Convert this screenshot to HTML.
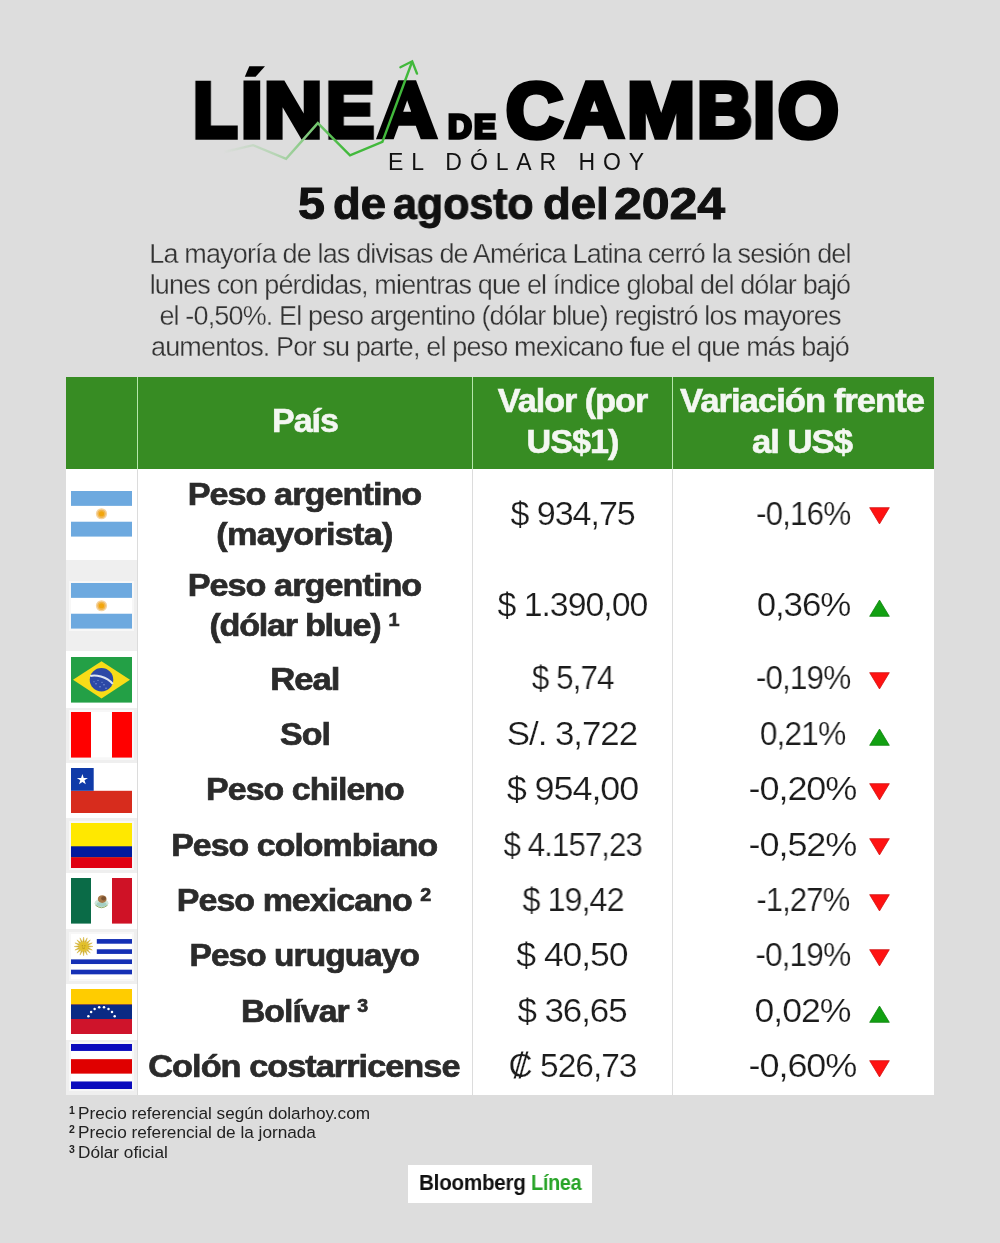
<!DOCTYPE html>
<html lang="es">
<head>
<meta charset="utf-8">
<title>Línea de Cambio - El dólar hoy</title>
<style>
*{margin:0;padding:0;box-sizing:border-box;}
html,body{width:1000px;height:1243px;background:#dddddd;overflow:hidden;}
body{font-family:"Liberation Sans",sans-serif;color:#1a1a1a;position:relative;}
.abs{position:absolute;white-space:nowrap;}
.para,.fn,.sub,.date,.name,.val,.pct,.hcell,.logo span,.t-de,.t-big{will-change:transform;}
h1,h2{font-size:inherit;font-weight:inherit;}
.c{text-align:center;}
/* ---------- header ---------- */
.t-big{font-weight:bold;font-size:78px;line-height:78px;color:#000;-webkit-text-stroke:5.5px #000;top:70.8px;transform-origin:0 0;}
.t-de{font-weight:bold;font-size:33px;line-height:33px;color:#000;-webkit-text-stroke:3.3px #000;}
.sub{font-size:23px;line-height:23px;letter-spacing:7.9px;color:#111;}
.date{font-weight:bold;font-size:44px;line-height:44px;color:#111;letter-spacing:-0.1px;-webkit-text-stroke:1px #111;}
.para{left:100px;width:800px;top:238.6px;font-size:27px;line-height:31.1px;color:#333;letter-spacing:-0.85px;white-space:normal;-webkit-text-stroke:0.3px #dddddd;}
/* ---------- table ---------- */
.tbl{position:absolute;left:66px;top:377px;width:868px;height:718px;background:#fff;}
.hd{position:absolute;left:0;top:0;width:868px;height:92px;background:#378c23;}
.vl{position:absolute;top:0;width:1px;height:718px;background:#dcdcdc;}
.vlh{position:absolute;top:0;width:1px;height:92px;background:#b5e6ab;}
.fc{position:absolute;left:0;width:71px;}
.g{background:#efefef;}
.hcell{position:absolute;color:#f4f7f2;font-weight:bold;font-size:34px;line-height:41px;letter-spacing:-1px;text-align:center;-webkit-text-stroke:0.6px #f4f7f2;}
.name{position:absolute;left:72px;width:334px;text-align:center;font-weight:bold;font-size:32px;line-height:40px;color:#2b2b2b;letter-spacing:-0.9px;-webkit-text-stroke:0.7px #2b2b2b;white-space:nowrap;}
.val{position:absolute;left:407px;width:199px;text-align:center;font-size:33px;line-height:40px;color:#1c1c1c;letter-spacing:-1px;white-space:nowrap;-webkit-text-stroke:0.22px #fff;}
.pct{position:absolute;left:637px;width:200px;text-align:center;font-size:33px;line-height:40px;color:#1c1c1c;letter-spacing:-1px;white-space:nowrap;-webkit-text-stroke:0.22px #fff;}
.tri{position:absolute;left:803px;width:21px;height:18px;}
.flag{position:absolute;left:5px;width:61px;height:45.6px;display:block;box-shadow:0 0 0 2px rgba(255,255,255,.5);}
sup.n{font-size:18.5px;vertical-align:baseline;position:relative;top:-10px;letter-spacing:0;}
/* ---------- footer ---------- */
.fn{left:69.3px;font-size:17.2px;line-height:19.4px;color:#222;letter-spacing:0;}
.fs{font-size:10.5px;position:relative;top:-4.6px;font-weight:bold;letter-spacing:0;margin-right:-1.6px;}
.logo{left:408px;top:1164.5px;width:183.5px;height:38.5px;background:#fff;}
.logo span{position:absolute;top:7.4px;font-weight:bold;font-size:22px;line-height:22px;letter-spacing:-0.3px;transform-origin:0 0;transform:scaleX(0.9);}
</style>
</head>
<body>

<!-- ================= HEADER ================= -->
<h1 aria-label="LÍNEA DE CAMBIO">
<div class="abs t-big" style="left:193.10px;transform:scaleX(0.9313);">L</div>
<div class="abs t-big" style="left:240.58px;transform:scaleX(0.9800);">I</div>
<div class="abs t-big" style="left:264.44px;transform:scaleX(1.0359);">N</div>
<div class="abs t-big" style="left:326.12px;transform:scaleX(0.9257);">E</div>
<div class="abs t-big" style="left:378.04px;transform:scaleX(1.0375);">A</div>
<div class="abs t-big" style="left:505.75px;transform:scaleX(1.0124);">C</div>
<div class="abs t-big" style="left:565.14px;transform:scaleX(1.0427);">A</div>
<div class="abs t-big" style="left:626.51px;transform:scaleX(1.0477);">M</div>
<div class="abs t-big" style="left:697.19px;transform:scaleX(0.9761);">B</div>
<div class="abs t-big" style="left:753.38px;transform:scaleX(1.0218);">I</div>
<div class="abs t-big" style="left:777.95px;transform:scaleX(1.0001);">O</div>
<div class="abs t-de" id="de" style="left:448px;top:109.5px;letter-spacing:2.1px;">DE</div>
</h1>
<svg class="abs" id="arrow" style="left:200px;top:50px;" width="240" height="120" viewBox="200 50 240 120">
  <defs><linearGradient id="fade" gradientUnits="userSpaceOnUse" x1="222" y1="0" x2="345" y2="0"><stop offset="0" stop-color="#dddddd"/><stop offset="0.45" stop-color="#b4d4b2"/><stop offset="1" stop-color="#42b93c"/></linearGradient></defs>
  <polygon points="249.3,66.2 265,66.2 255.6,76.8 244.8,76.8" fill="#000"/>
  <polyline points="224.2,152 253.1,145.2 286.1,158.8 317.8,123.1 350,155.4 382.4,141.8 412,62" fill="none" stroke="url(#fade)" stroke-width="2.4" stroke-linejoin="miter"/>
  <polyline points="400.4,67.2 412.2,61.3 417,73.6" fill="none" stroke="#42b93c" stroke-width="2.4" stroke-linejoin="miter" stroke-linecap="round"/>
</svg>
<div class="abs sub" id="sub" style="left:388px;top:150.6px;">EL DÓLAR HOY</div>
<!--DATE-->
<h2 aria-label="5 de agosto del 2024">
<div class="abs date" style="left:298.32px;top:181.7px;transform-origin:0 0;transform:scaleX(1.1000);">5</div>
<div class="abs date" style="left:333.37px;top:181.7px;transform-origin:0 0;transform:scaleX(1.0327);">de</div>
<div class="abs date" style="left:393.02px;top:181.7px;transform-origin:0 0;transform:scaleX(0.9789);">agosto</div>
<div class="abs date" style="left:542.95px;top:181.7px;transform-origin:0 0;transform:scaleX(1.0350);">del</div>
<div class="abs date" style="left:614.43px;top:181.7px;transform-origin:0 0;transform:scaleX(1.1381);">2024</div>
</h2>
<!--/DATE-->

<div class="abs para c" id="para">La mayoría de las divisas de América Latina cerró la sesión del<br>lunes con pérdidas, mientras que el índice global del dólar bajó<br>el -0,50%. El peso argentino (dólar blue) registró los mayores<br>aumentos. Por su parte, el peso mexicano fue el que más bajó</div>

<!-- ================= TABLE ================= -->
<div class="tbl" id="tbl">
  <!-- flag column backgrounds -->
  <div class="fc g" style="top:182.7px;height:91.7px;"></div>
  <div class="fc g" style="top:330.8px;height:55px;"></div>
  <div class="fc g" style="top:441.3px;height:54.9px;"></div>
  <div class="fc g" style="top:552.2px;height:54.7px;"></div>
  <div class="fc g" style="top:662.7px;height:55.3px;"></div>
  <div class="hd"></div>
  <div class="vl" style="left:71px;"></div>
  <div class="vl" style="left:406px;"></div>
  <div class="vl" style="left:606px;"></div>
  <div class="vlh" style="left:71px;"></div>
  <div class="vlh" style="left:406px;"></div>
  <div class="vlh" style="left:606px;"></div>

  <div class="hcell" style="left:72px;width:334px;top:23.2px;transform:scaleX(1.0);">País</div>
  <div class="hcell" style="left:407px;width:199px;top:3.2px;transform:scaleX(1.005);">Valor (por<br>US$1)</div>
  <div class="hcell" style="left:607px;width:261px;top:3.2px;transform:translateX(-1.5px) scaleX(1.02);">Variación frente<br>al US$</div>
  <!-- flags -->
  <svg class="flag" style="top:114.3px;" viewBox="0 0 61 46" preserveAspectRatio="none"><rect width="61" height="46" fill="#fff"/><rect width="61" height="15" fill="#6da9df"/><rect y="31" width="61" height="15" fill="#6da9df"/><circle cx="30.5" cy="23" r="5.6" fill="#f5d3a0"/><circle cx="30.5" cy="23" r="4.2" fill="#f0b650"/><circle cx="30.5" cy="23" r="2.6" fill="#f2a60c"/></svg>
  <svg class="flag" style="top:206.0px;" viewBox="0 0 61 46" preserveAspectRatio="none"><rect width="61" height="46" fill="#fff"/><rect width="61" height="15" fill="#6da9df"/><rect y="31" width="61" height="15" fill="#6da9df"/><circle cx="30.5" cy="23" r="5.6" fill="#f5d3a0"/><circle cx="30.5" cy="23" r="4.2" fill="#f0b650"/><circle cx="30.5" cy="23" r="2.6" fill="#f2a60c"/></svg>
  <svg class="flag" style="top:280.0px;" viewBox="0 0 61 46" preserveAspectRatio="none"><rect width="61" height="46" fill="#23a046"/><path d="M2 23L30.5 4.2L59 23L30.5 41.8Z" fill="#f8dc18"/><circle cx="30.5" cy="23" r="11.8" fill="#2c49a6"/><path d="M19.2 19.2C24 17.6 35.5 19.5 41.8 27.2" stroke="#dfe6f2" stroke-width="2" fill="none"/><g fill="#8aa0dc"><circle cx="25" cy="27" r=".7"/><circle cx="29" cy="30" r=".7"/><circle cx="33" cy="28" r=".7"/><circle cx="27" cy="23.5" r=".6"/><circle cx="35" cy="31.5" r=".7"/><circle cx="23" cy="25" r=".6"/><circle cx="31" cy="25.5" r=".6"/></g></svg>
  <svg class="flag" style="top:335.4px;" viewBox="0 0 61 46" preserveAspectRatio="none"><rect width="61" height="46" fill="#fff"/><rect width="20" height="46" fill="#ff0000"/><rect x="41" width="20" height="46" fill="#ff0000"/></svg>
  <svg class="flag" style="top:390.9px;" viewBox="0 0 61 46" preserveAspectRatio="none"><rect width="61" height="46" fill="#fff"/><rect y="23" width="61" height="23" fill="#d72c1d"/><rect width="22.7" height="23" fill="#0f3aa8"/><polygon points="11.40,6.00 12.70,10.01 16.92,10.01 13.51,12.48 14.81,16.49 11.40,14.02 7.99,16.49 9.29,12.48 5.88,10.01 10.10,10.01" fill="#fff"/></svg>
  <svg class="flag" style="top:445.9px;" viewBox="0 0 61 46" preserveAspectRatio="none"><rect width="61" height="46" fill="#ffe800"/><rect y="23.5" width="61" height="11.3" fill="#001a9e"/><rect y="34.6" width="61" height="11.4" fill="#e00012"/></svg>
  <svg class="flag" style="top:501.1px;" viewBox="0 0 61 46" preserveAspectRatio="none"><rect width="61" height="46" fill="#fff"/><rect width="20" height="46" fill="#0a6b47"/><rect x="41" width="20" height="46" fill="#cf1226"/><ellipse cx="30.5" cy="25.4" rx="7" ry="4.2" fill="#cfe6da"/><ellipse cx="30.5" cy="26.6" rx="5" ry="2.4" fill="#a5d0c4"/><ellipse cx="31.2" cy="21.2" rx="4.4" ry="3.9" fill="#a9794a"/><ellipse cx="32.6" cy="20.6" rx="2.4" ry="2.1" fill="#7c5230"/><path d="M24.5 27.5q6 5 12 0" stroke="#93ad6c" stroke-width="1" fill="none"/></svg>
  <svg class="flag" style="top:556.6px;" viewBox="0 0 61 46" preserveAspectRatio="none"><rect width="61" height="46" fill="#fff"/><g fill="#1530b5"><rect x="25.8" y="5.1" width="35.2" height="4.7"/><rect x="25.8" y="15.4" width="35.2" height="4.7"/><rect y="25.6" width="61" height="4.7"/><rect y="36" width="61" height="4.7"/></g><g fill="#d2b030" stroke="#d2b030" stroke-width=".45" stroke-linejoin="round"><polygon points="16.92,11.76 22.00,12.60 16.92,13.44"/><polygon points="16.91,13.48 21.28,16.20 16.27,15.03"/><polygon points="16.25,15.06 19.25,19.25 15.06,16.25"/><polygon points="15.03,16.27 16.20,21.28 13.48,16.91"/><polygon points="13.44,16.92 12.60,22.00 11.76,16.92"/><polygon points="11.72,16.91 9.00,21.28 10.17,16.27"/><polygon points="10.14,16.25 5.95,19.25 8.95,15.06"/><polygon points="8.93,15.03 3.92,16.20 8.29,13.48"/><polygon points="8.28,13.44 3.20,12.60 8.28,11.76"/><polygon points="8.29,11.72 3.92,9.00 8.93,10.17"/><polygon points="8.95,10.14 5.95,5.95 10.14,8.95"/><polygon points="10.17,8.93 9.00,3.92 11.72,8.29"/><polygon points="11.76,8.28 12.60,3.20 13.44,8.28"/><polygon points="13.48,8.29 16.20,3.92 15.03,8.93"/><polygon points="15.06,8.95 19.25,5.95 16.25,10.14"/><polygon points="16.27,10.17 21.28,9.00 16.91,11.72"/></g><circle cx="12.6" cy="12.6" r="4.6" fill="#e2c02a"/><circle cx="11.3" cy="11.8" r=".55" fill="#9c7a18"/><circle cx="13.9" cy="11.8" r=".55" fill="#9c7a18"/><path d="M11.2 14q1.4 1.1 2.8 0" stroke="#9c7a18" stroke-width=".6" fill="none"/></svg>
  <svg class="flag" style="top:611.8px;" viewBox="0 0 61 46" preserveAspectRatio="none"><rect width="61" height="46" fill="#cf142b"/><rect width="61" height="15.7" fill="#ffcc00"/><rect y="15.7" width="61" height="14.6" fill="#0a2a84"/><g fill="#fff"><circle cx="17.4" cy="27.5" r="1.25"/><circle cx="20.1" cy="23.1" r="1.25"/><circle cx="23.6" cy="20.2" r="1.25"/><circle cx="28.2" cy="18.3" r="1.25"/><circle cx="33.0" cy="18.3" r="1.25"/><circle cx="37.5" cy="20.2" r="1.25"/><circle cx="41.0" cy="23.1" r="1.25"/><circle cx="43.7" cy="27.5" r="1.25"/></g></svg>
  <svg class="flag" style="top:666.9px;" viewBox="0 0 61 46" preserveAspectRatio="none"><rect width="61" height="46" fill="#fff"/><rect width="61" height="7" fill="#0b0bbd"/><rect y="15.3" width="61" height="14.6" fill="#e00000"/><rect y="37.8" width="61" height="8.2" fill="#0b0bbd"/></svg>
  <!--ROWS-->
  <!-- row 1 -->
  <div class="name" id="n0" style="top:96.8px;transform:translateX(-0.53px) scaleX(1.0691);">Peso argentino<br><span style="letter-spacing:-0.7px">(mayorista)</span></div>
  <div class="val" id="v0" style="top:116.7px;transform:translateX(0.10px) scaleX(1.0319);">$ 934,75</div>
  <div class="pct" id="p0" style="top:116.7px;transform:translateX(0.12px) scaleX(0.9567);">-0,16%</div>
  <svg class="tri" style="top:130.0px;" viewBox="0 0 21.4 17.8"><path d="M0.7 0.4H20.7L10.7 17Z" fill="#ff1212" stroke="#d01414" stroke-width=".8" stroke-linejoin="miter"/></svg>
  <!-- row 2 -->
  <div class="name" id="n1" style="top:188.3px;transform:translateX(-0.53px) scaleX(1.0691);">Peso argentino<br><span style="letter-spacing:-1.2px">(dólar blue) <sup class="n">1</sup></span></div>
  <div class="val" id="v1" style="top:208.2px;transform:translateX(-0.10px) scaleX(1.0262);">$ 1.390,00</div>
  <div class="pct" id="p1" style="top:208.2px;transform:translateX(0.47px) scaleX(1.0575);">0,36%</div>
  <svg class="tri" style="top:222.1px;" viewBox="0 0 21.4 17.8"><path d="M0.7 17.4H20.7L10.7 0.8Z" fill="#12a012" stroke="#0f850f" stroke-width=".8" stroke-linejoin="miter"/></svg>
  <!-- row 3 -->
  <div class="name" id="n2" style="top:281.5px;transform:translateX(-0.19px) scaleX(1.0836);">Real</div>
  <div class="val" id="v2" style="top:281.4px;transform:translateX(0.10px) scaleX(0.9553);">$ 5,74</div>
  <div class="pct" id="p2" style="top:281.4px;transform:translateX(0.02px) scaleX(0.9588);">-0,19%</div>
  <svg class="tri" style="top:294.7px;" viewBox="0 0 21.4 17.8"><path d="M0.7 0.4H20.7L10.7 17Z" fill="#ff1212" stroke="#d01414" stroke-width=".8" stroke-linejoin="miter"/></svg>
  <!-- row 4 -->
  <div class="name" id="n3" style="top:337.0px;transform:translateX(0.00px) scaleX(1.0609);">Sol</div>
  <div class="val" id="v3" style="top:336.9px;transform:translateX(-0.53px) scaleX(1.0583);">S/. 3,722</div>
  <div class="pct" id="p3" style="top:336.9px;transform:translateX(-0.48px) scaleX(0.9655);">0,21%</div>
  <svg class="tri" style="top:350.8px;" viewBox="0 0 21.4 17.8"><path d="M0.7 17.4H20.7L10.7 0.8Z" fill="#12a012" stroke="#0f850f" stroke-width=".8" stroke-linejoin="miter"/></svg>
  <!-- row 5 -->
  <div class="name" id="n4" style="top:392.3px;transform:translateX(-0.03px) scaleX(1.0595);">Peso chileno</div>
  <div class="val" id="v4" style="top:392.2px;transform:translateX(0.00px) scaleX(1.0924);">$ 954,00</div>
  <div class="pct" id="p4" style="top:392.2px;transform:translateX(-0.55px) scaleX(1.0928);">-0,20%</div>
  <svg class="tri" style="top:405.5px;" viewBox="0 0 21.4 17.8"><path d="M0.7 0.4H20.7L10.7 17Z" fill="#ff1212" stroke="#d01414" stroke-width=".8" stroke-linejoin="miter"/></svg>
  <!-- row 6 -->
  <div class="name" id="n5" style="top:447.9px;transform:translateX(-0.76px) scaleX(1.0584);">Peso colombiano</div>
  <div class="val" id="v5" style="top:447.8px;transform:translateX(0.25px) scaleX(0.9483);">$ 4.157,23</div>
  <div class="pct" id="p5" style="top:447.8px;transform:translateX(-0.55px) scaleX(1.0928);">-0,52%</div>
  <svg class="tri" style="top:461.1px;" viewBox="0 0 21.4 17.8"><path d="M0.7 0.4H20.7L10.7 17Z" fill="#ff1212" stroke="#d01414" stroke-width=".8" stroke-linejoin="miter"/></svg>
  <!-- row 7 -->
  <div class="name" id="n6" style="top:503.3px;transform:translateX(-1.06px) scaleX(1.0613);">Peso mexicano <sup class="n">2</sup></div>
  <div class="val" id="v6" style="top:503.2px;transform:translateX(0.50px) scaleX(0.9802);">$ 19,42</div>
  <div class="pct" id="p6" style="top:503.2px;transform:translateX(-0.22px) scaleX(0.9433);">-1,27%</div>
  <svg class="tri" style="top:516.5px;" viewBox="0 0 21.4 17.8"><path d="M0.7 0.4H20.7L10.7 17Z" fill="#ff1212" stroke="#d01414" stroke-width=".8" stroke-linejoin="miter"/></svg>
  <!-- row 8 -->
  <div class="name" id="n7" style="top:558.3px;transform:translateX(-0.74px) scaleX(1.0450);">Peso uruguayo</div>
  <div class="val" id="v7" style="top:558.2px;transform:translateX(-0.54px) scaleX(1.0784);">$ 40,50</div>
  <div class="pct" id="p7" style="top:558.2px;transform:translateX(-0.23px) scaleX(0.9639);">-0,19%</div>
  <svg class="tri" style="top:571.5px;" viewBox="0 0 21.4 17.8"><path d="M0.7 0.4H20.7L10.7 17Z" fill="#ff1212" stroke="#d01414" stroke-width=".8" stroke-linejoin="miter"/></svg>
  <!-- row 9 -->
  <div class="name" id="n8" style="top:613.8px;transform:translateX(-0.53px) scaleX(1.0555);">Bolívar <sup class="n">3</sup></div>
  <div class="val" id="v8" style="top:613.7px;transform:translateX(-0.53px) scaleX(1.0588);">$ 36,65</div>
  <div class="pct" id="p8" style="top:613.7px;transform:translateX(-0.54px) scaleX(1.0805);">0,02%</div>
  <svg class="tri" style="top:627.6px;" viewBox="0 0 21.4 17.8"><path d="M0.7 17.4H20.7L10.7 0.8Z" fill="#12a012" stroke="#0f850f" stroke-width=".8" stroke-linejoin="miter"/></svg>
  <!-- row 10 -->
  <div class="name" id="n9" style="top:669.3px;transform:translateX(-1.07px) scaleX(1.0710);">Colón costarricense</div>
  <div class="val" id="v9" style="top:669.2px;transform:translateX(-0.01px) scaleX(1.0161);">₡ 526,73</div>
  <div class="pct" id="p9" style="top:669.2px;transform:translateX(-0.55px) scaleX(1.0928);">-0,60%</div>
  <svg class="tri" style="top:682.5px;" viewBox="0 0 21.4 17.8"><path d="M0.7 0.4H20.7L10.7 17Z" fill="#ff1212" stroke="#d01414" stroke-width=".8" stroke-linejoin="miter"/></svg>
  <!--/ROWS-->
</div>

<div class="abs fn" id="fn1" style="top:1103.9px;"><span class="fs">1</span> Precio referencial según dolarhoy.com</div>
<div class="abs fn" id="fn2" style="top:1123.3px;"><span class="fs">2</span> Precio referencial de la jornada</div>
<div class="abs fn" id="fn3" style="top:1142.7px;"><span class="fs">3</span> Dólar oficial</div>

<div class="abs logo" id="logo"><span id="lg1" style="left:11.4px;color:#111;transform:scaleX(0.94);">Bloomberg</span><span id="lg2" style="left:122.5px;color:#28a428;">Línea</span></div>

</body>
</html>
